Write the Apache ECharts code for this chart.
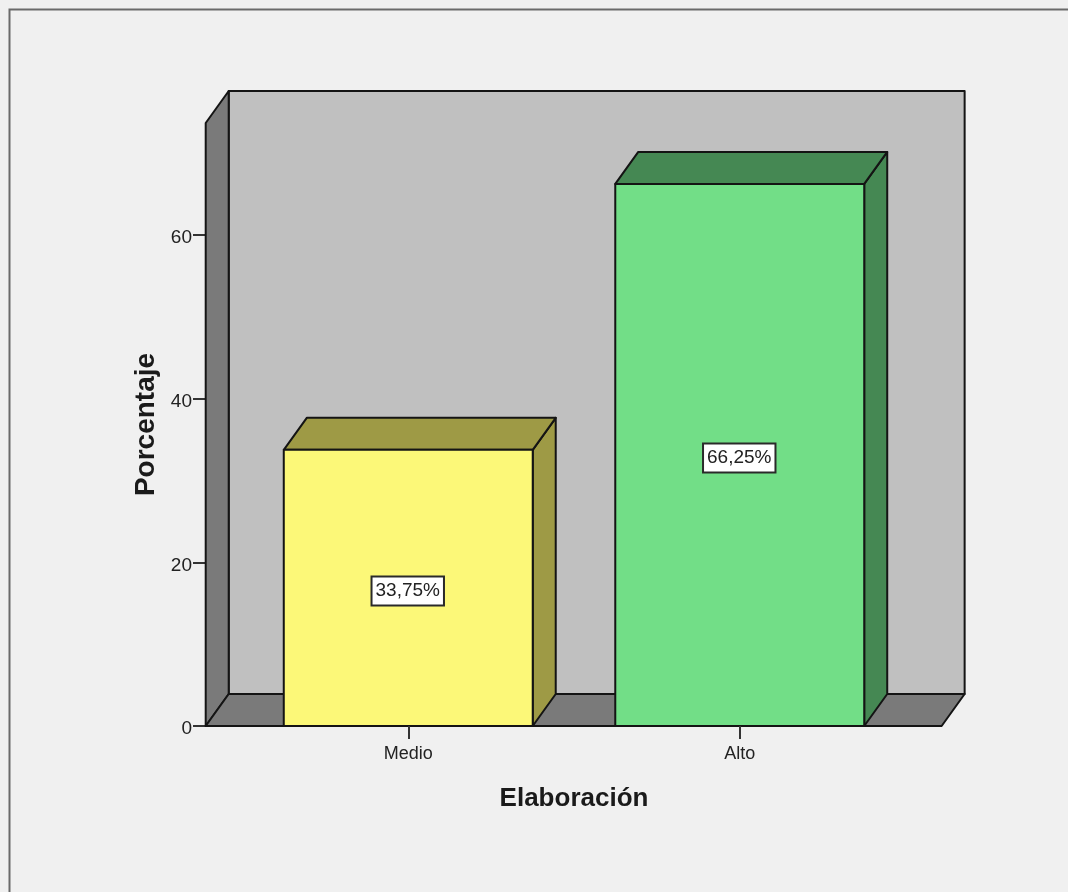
<!DOCTYPE html>
<html>
<head>
<meta charset="utf-8">
<style>html,body{margin:0;padding:0;background:#f0f0f0}#c{width:1068px;height:892px}</style>
<script src="https://cdn.jsdelivr.net/npm/echarts@6/dist/echarts.min.js"></script>
</head>
<body>
<div id="c"></div>
<script>
const categories = ['Medio', 'Alto'];
const percentages = [33.75, 66.25];
const valueTicks = [0, 20, 40, 60];
const xTitle = 'Elaboración';
const yTitle = 'Porcentaje';
const fronts = ['#fcf878', '#72de87'];
const shades = ['#9e9a45', '#458853'];

const DX = 23, DY = 32;        // oblique depth, px
const LINE = '#141414';
const FONT = '"Liberation Sans", Arial, sans-serif';

function poly(points, fill) {
  return { type: 'polygon', shape: { points }, style: { fill, stroke: LINE, lineWidth: 2, lineJoin: 'round' } };
}

function renderRoom(params, api) {
  const band = api.size([1, 0])[0];
  const l = api.coord([0, 0])[0] - 0.611 * band;
  const r = api.coord([1, 0])[0] + 0.609 * band;
  const y0 = api.coord([0, 0])[1];
  const top = api.coord([0, api.value(0)])[1];
  return {
    type: 'group',
    children: [
      poly([[l + DX, top - DY], [r + DX, top - DY], [r + DX, y0 - DY], [l + DX, y0 - DY]], '#c0c0c0'),
      poly([[l, top], [l + DX, top - DY], [l + DX, y0 - DY], [l, y0]], '#7a7a7a'),
      poly([[l, y0], [l + DX, y0 - DY], [r + DX, y0 - DY], [r, y0]], '#7a7a7a')
    ]
  };
}

function renderBar(params, api) {
  const i = api.value(0);
  const v = api.value(1);
  const band = api.size([1, 0])[0];
  const half = 0.3755 * band;
  const cx = api.coord([i, 0])[0];
  const y0 = api.coord([i, 0])[1];
  const yt = api.coord([i, v])[1];
  const l = cx - half, r = cx + half;
  const s = shades[i];
  return {
    type: 'group',
    children: [
      poly([[r, yt], [r + DX, yt - DY], [r + DX, y0 - DY], [r, y0]], s),
      poly([[l, yt], [l + DX, yt - DY], [r + DX, yt - DY], [r, yt]], s),
      poly([[l, yt], [r, yt], [r, y0], [l, y0]], fronts[i]),
      {
        type: 'text',
        style: {
          x: cx - 0.5, y: (yt + y0) / 2 + 3,
          text: v.toFixed(2).replace('.', ',') + '%',
          font: '19px ' + FONT,
          fill: '#222',
          align: 'center', verticalAlign: 'middle',
          backgroundColor: '#ffffff',
          borderColor: '#2a2a2a',
          borderWidth: 2,
          padding: [4, 3, 4, 3]
        }
      }
    ]
  };
}

const chart = echarts.init(document.getElementById('c'), null, { renderer: 'canvas' });
chart.setOption({
  animation: false,
  backgroundColor: '#f0f0f0',
  graphic: [{
    type: 'polyline',
    shape: { points: [[9.5, 892], [9.5, 9.5], [1068, 9.5]] },
    style: { stroke: '#6a6a6a', lineWidth: 2, fill: 'none' },
    silent: true
  }],
  grid: { left: 242.5, top: 123, width: 663, height: 603, containLabel: false },
  xAxis: {
    type: 'category',
    data: categories,
    name: xTitle,
    nameLocation: 'middle',
    nameGap: 60,
    nameTextStyle: { fontFamily: FONT, fontWeight: 'bold', fontSize: 26, color: '#1a1a1a' },
    axisLine: { show: false },
    axisTick: { show: true, alignWithLabel: true, length: 13, lineStyle: { color: '#333', width: 2 } },
    axisLabel: { margin: 19, fontFamily: FONT, fontSize: 18, color: '#222' },
    z: 10
  },
  yAxis: {
    type: 'value',
    min: 0,
    max: 73.7,
    offset: 36.5,
    name: yTitle,
    nameLocation: 'middle',
    nameGap: 46,
    nameTextStyle: { fontFamily: FONT, fontWeight: 'bold', fontSize: 28, color: '#1a1a1a' },
    splitLine: { show: false },
    axisLine: { show: false },
    axisTick: { show: true, length: 13, customValues: valueTicks, lineStyle: { color: '#333', width: 2 } },
    axisLabel: {
      customValues: valueTicks,
      margin: 14,
      formatter: '{t|{value}}',
      rich: { t: { padding: [6, 0, 0, 0], fontFamily: FONT, fontSize: 19, color: '#222' } }
    }
  },
  series: [
    {
      type: 'custom',
      coordinateSystem: 'cartesian2d',
      renderItem: renderRoom,
      clip: false,
      silent: true,
      z: 1,
      encode: { x: 0, y: 1 },
      data: [[73.7]]
    },
    {
      type: 'custom',
      coordinateSystem: 'cartesian2d',
      renderItem: renderBar,
      clip: false,
      silent: true,
      z: 2,
      encode: { x: 0, y: 1 },
      data: percentages.map((v, i) => [i, v])
    }
  ]
});
</script>
</body>
</html>
